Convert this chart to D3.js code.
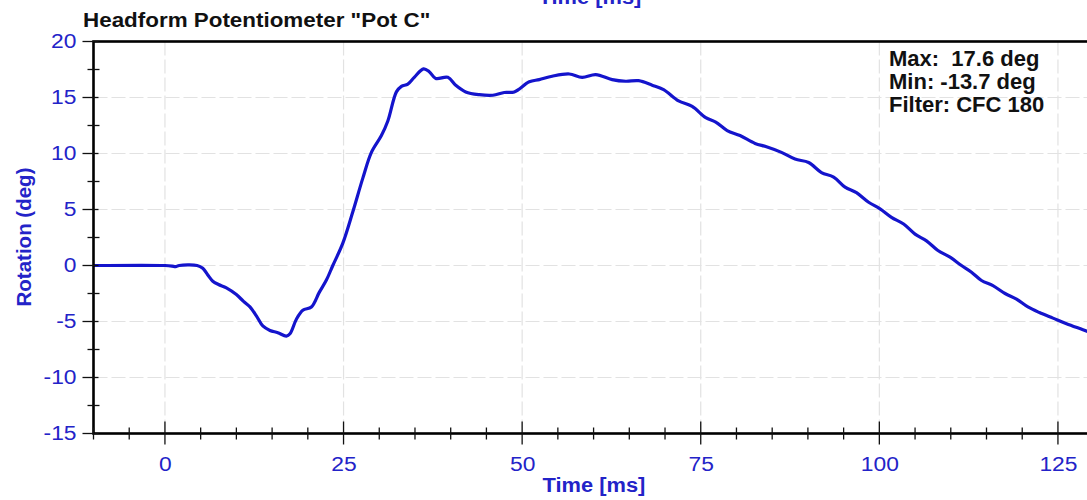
<!DOCTYPE html>
<html>
<head>
<meta charset="utf-8">
<script src="https://cdn.jsdelivr.net/npm/d3@7"></script>
<style>
  html, body { margin: 0; padding: 0; background: #fff; }
  svg { display: block; }
  text { font-family: "Liberation Sans", Arial, sans-serif; }
</style>
</head>
<body>
<svg id="chart" width="1087" height="500"></svg>
<script>
// ---- data ----
const timeMs = [-10, 0, 1, 1.5, 2, 4.5, 5.3, 6, 6.7, 7.5, 8.6, 10, 11, 11.9, 12.8, 13.7, 14.7, 15.8, 17, 17.5,
  18.4, 19.3, 20.5, 21.6, 22.6, 23.5, 24.9, 26.3, 27.7, 28.9, 30.3, 31.2, 32.4, 33.1, 34, 34.9, 36.2, 37, 37.9, 39.6,
  40.7, 42.1, 44, 45.9, 47.5, 48.9, 51, 52.4, 54.2, 56.6, 58.4, 60.3, 62.6, 64.5, 66.3, 68.2, 69.8, 71.9, 73.8, 75.7,
  77.1, 78.7, 80.5, 82.6, 84.2, 86.3, 88.2, 90.1, 91.9, 93.6, 95.2, 96.8, 98.5, 100.1, 101.7, 103.4, 105, 106.6, 108.2, 109.9,
  111.5, 112.9, 114.3, 115.9, 117.6, 119.2, 120.8, 122.4, 124.3, 126.2, 128.5, 130];
const rotationDeg = [0, 0, -0.05, -0.1, 0, 0, -0.25, -0.85, -1.4, -1.7, -2.0, -2.6, -3.2, -3.7, -4.5, -5.4, -5.8, -6.0, -6.3, -6.1,
  -4.8, -4.0, -3.7, -2.4, -1.3, 0, 2.0, 4.8, 7.8, 10.1, 11.6, 12.9, 15.5, 16.0, 16.2, 16.8, 17.55, 17.3, 16.7, 16.8,
  16.1, 15.5, 15.25, 15.2, 15.45, 15.5, 16.4, 16.6, 16.9, 17.1, 16.8, 17.05, 16.6, 16.45, 16.5, 16.1, 15.7, 14.7, 14.2, 13.2,
  12.8, 12.05, 11.6, 10.9, 10.6, 10.1, 9.5, 9.2, 8.3, 7.9, 7.0, 6.5, 5.65, 5.06, 4.3, 3.7, 2.8, 2.2, 1.34, 0.74,
  0, -0.6, -1.34, -1.8, -2.5, -3.0, -3.7, -4.2, -4.7, -5.2, -5.74, -6.1];
const xTickValues = [0, 25, 50, 75, 100, 125];
const yTickValues = [-15, -10, -5, 0, 5, 10, 15, 20];
const xDomain = [-10, 130];
const yDomain = [-15, 20];
const chartTitle = 'Headform Potentiometer "Pot C"';
const xTitle = "Time [ms]";
const yTitle = "Rotation (deg)";
const statsLines = ["Max:  17.6 deg", "Min: -13.7 deg", "Filter: CFC 180"];

// ---- layout ----
const svg = d3.select("#chart");
const L = 93.5, T = 41.5, B = 433.5;
const x = d3.scaleLinear().domain(xDomain).range([L, L + 7.144 * (xDomain[1] - xDomain[0])]);
const y = d3.scaleLinear().domain(yDomain).range([B, T]);
const R = x(xDomain[1]);
const blue = "#2323c8";
const lineBlue = "#1414cc";
const fmt = d => String(d);

function stretch(sel, k) {
  sel.each(function () {
    const w = this.getComputedTextLength();
    d3.select(this).attr("textLength", w * k).attr("lengthAdjust", "spacingAndGlyphs");
  });
}

// grid
const grid = svg.append("g").attr("stroke", "#e2e2e2").attr("stroke-width", 1.2).attr("stroke-dasharray", "14,4");
grid.selectAll(".gx").data(xTickValues).join("line")
  .attr("x1", d => x(d)).attr("x2", d => x(d)).attr("y1", T).attr("y2", B);
grid.selectAll(".gy").data(yTickValues.filter(v => v > yDomain[0] && v < yDomain[1])).join("line")
  .attr("x1", L).attr("x2", R).attr("y1", d => y(d)).attr("y2", d => y(d));

// clip + line
svg.append("clipPath").attr("id", "clip").append("rect")
  .attr("x", L).attr("y", T).attr("width", R - L).attr("height", B - T);
const pts = timeMs.map((t, i) => [t, rotationDeg[i]]);
const line = d3.line().x(d => x(d[0])).y(d => y(d[1])).curve(d3.curveCatmullRom.alpha(0.5));
svg.append("path").datum(pts).attr("clip-path", "url(#clip)")
  .attr("fill", "none").attr("stroke", lineBlue).attr("stroke-width", 3.2)
  .attr("stroke-linejoin", "round").attr("d", line);

// frame
svg.append("rect").attr("x", L).attr("y", T).attr("width", R - L).attr("height", B - T)
  .attr("fill", "none").attr("stroke", "#000").attr("stroke-width", 2.6);

// x axis
const xAxis = svg.append("g").attr("transform", `translate(0,${B})`)
  .call(d3.axisBottom(x).tickValues(xTickValues).tickFormat(fmt).tickSize(0).tickPadding(24));
xAxis.select(".domain").remove();
xAxis.selectAll(".tick line").remove();
xAxis.selectAll("text").attr("fill", blue).attr("font-size", 19.5).attr("font-family", "Liberation Sans, Arial, sans-serif");
stretch(xAxis.selectAll("text"), 1.17);
const xMinor = d3.range(xDomain[0], xDomain[1] + 0.01, 5).filter(v => !xTickValues.includes(v));
svg.append("g").attr("stroke", "#111").attr("stroke-width", 1.3).selectAll("line").data(xMinor).join("line")
  .attr("x1", d => x(d)).attr("x2", d => x(d)).attr("y1", B - 6).attr("y2", B + 6);
svg.append("g").attr("stroke", "#111").attr("stroke-width", 1.3).selectAll("line").data(xTickValues).join("line")
  .attr("x1", d => x(d)).attr("x2", d => x(d)).attr("y1", B - 12).attr("y2", B + 11);

// y axis
const yAxis = svg.append("g").attr("transform", `translate(${L},0)`)
  .call(d3.axisLeft(y).tickValues(yTickValues).tickFormat(fmt).tickSize(0).tickPadding(17));
yAxis.select(".domain").remove();
yAxis.selectAll(".tick line").remove();
yAxis.selectAll("text").attr("fill", blue).attr("font-size", 19.5).attr("font-family", "Liberation Sans, Arial, sans-serif");
stretch(yAxis.selectAll("text"), 1.17);
const yMinor = d3.range(yDomain[0] + 2.5, yDomain[1], 5);
svg.append("g").attr("stroke", "#111").attr("stroke-width", 1.3).selectAll("line").data(yMinor).join("line")
  .attr("x1", L - 6).attr("x2", L + 6).attr("y1", d => y(d)).attr("y2", d => y(d));
svg.append("g").attr("stroke", "#111").attr("stroke-width", 1.3).selectAll("line").data(yTickValues).join("line")
  .attr("x1", L - 11).attr("x2", L + 5).attr("y1", d => y(d)).attr("y2", d => y(d));

// titles
const title = svg.append("text").attr("x", 83).attr("y", 27).attr("font-size", 20).attr("font-weight", "bold")
  .attr("fill", "#111").text(chartTitle);
stretch(title, 1.12);

const xt = svg.append("text").attr("x", 594).attr("y", 492).attr("text-anchor", "middle")
  .attr("font-size", 19.5).attr("font-weight", "bold").attr("fill", blue).text(xTitle);
stretch(xt, 1.12);
// cut-off remnant of the neighbouring chart's axis title, as in the reference
const xtTop = svg.append("text").attr("x", 590).attr("y", 4).attr("text-anchor", "middle")
  .attr("font-size", 19.5).attr("font-weight", "bold").attr("fill", blue).text(xTitle);
stretch(xtTop, 1.12);

svg.append("text").attr("transform", "translate(31,237) rotate(-90)").attr("text-anchor", "middle")
  .attr("font-size", 20.5).attr("font-weight", "bold").attr("fill", blue).text(yTitle);

// stats
svg.append("g").selectAll("text").data(statsLines).join("text")
  .attr("x", 889).attr("y", (d, i) => 66 + i * 23.2)
  .attr("font-size", 22).attr("font-weight", "bold").attr("fill", "#111")
  .attr("xml:space", "preserve").style("white-space", "pre").text(d => d);
</script>
</body>
</html>
